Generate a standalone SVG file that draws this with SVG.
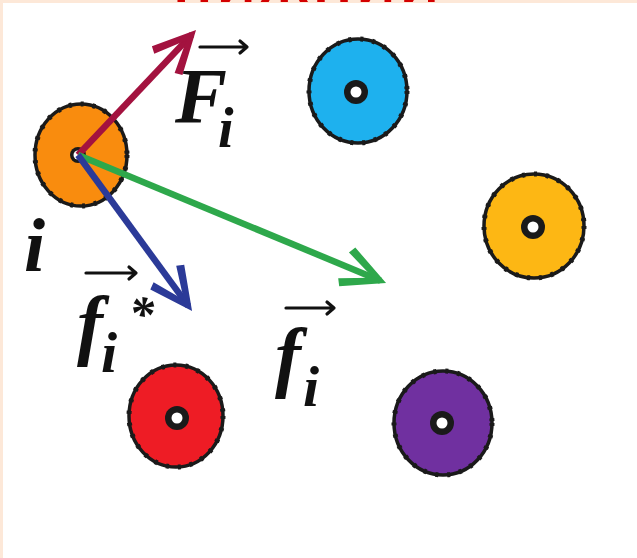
<svg xmlns="http://www.w3.org/2000/svg" width="637" height="558" viewBox="0 0 637 558">
<style>
.p{stroke:#1a1a1a;stroke-width:3.5}
.bump{fill:none;stroke:#1a1a1a;stroke-width:5;stroke-dasharray:3 9}
.ring{fill:#1a1a1a}
.hole{fill:#fff}
.shaft{fill:none;stroke-width:6.5;stroke-linecap:butt}
.lbl{font-family:"Liberation Serif","Times New Roman",serif;font-weight:bold;font-style:italic;fill:#111}
.vec{fill:none;stroke:#111;stroke-width:3.2;stroke-linecap:round;stroke-linejoin:round}
</style>
<defs>
<marker id="hR" markerUnits="userSpaceOnUse" orient="auto" viewBox="-45 -25 55 50" refX="0" refY="0" markerWidth="55" markerHeight="50"><polygon points="6,0 -36,-21 -40,-14 -8,0 -40,14 -36,21" fill="#A3123F"/></marker>
<marker id="hG" markerUnits="userSpaceOnUse" orient="auto" viewBox="-45 -25 55 50" refX="0" refY="0" markerWidth="55" markerHeight="50"><polygon points="6,0 -36,-21 -40,-14 -8,0 -40,14 -36,21" fill="#2EA84B"/></marker>
<marker id="hB" markerUnits="userSpaceOnUse" orient="auto" viewBox="-45 -25 55 50" refX="0" refY="0" markerWidth="55" markerHeight="50"><polygon points="6,0 -36,-21 -40,-14 -8,0 -40,14 -36,21" fill="#2B3A98"/></marker>
</defs>
<rect x="0" y="0" width="637" height="558" fill="#fff"/>
<rect x="0" y="0" width="637" height="3" fill="#FDE8D8"/>
<rect x="0" y="0" width="3" height="558" fill="#FDE8D8"/>
<text x="309" y="2" text-anchor="middle" font-family="Liberation Sans, Arial, sans-serif" font-weight="bold" font-size="52" fill="#D40000" letter-spacing="6">НИЖНИЙ</text>

<g id="particle-i">
<ellipse cx="81" cy="155" rx="46" ry="51" fill="#F98C0E" class="p"/>
<ellipse cx="81" cy="155" rx="46" ry="51" class="bump"/>
<circle cx="78" cy="155" r="8" class="ring"/>
<circle cx="78" cy="155" r="4.5" class="hole"/>
</g>
<g id="particle-blue">
<ellipse cx="358" cy="91" rx="49" ry="52" fill="#1EB1EE" class="p"/>
<ellipse cx="358" cy="91" rx="49" ry="52" class="bump"/>
<circle cx="356" cy="92" r="12" class="ring"/>
<circle cx="356" cy="92" r="5.5" class="hole"/>
</g>
<g id="particle-yellow">
<ellipse cx="534" cy="226" rx="50" ry="52" fill="#FDB714" class="p"/>
<ellipse cx="534" cy="226" rx="50" ry="52" class="bump"/>
<circle cx="533" cy="227" r="12" class="ring"/>
<circle cx="533" cy="227" r="5.5" class="hole"/>
</g>
<g id="particle-red">
<ellipse cx="176" cy="416" rx="47" ry="51" fill="#EE1C25" class="p"/>
<ellipse cx="176" cy="416" rx="47" ry="51" class="bump"/>
<circle cx="177" cy="418" r="12" class="ring"/>
<circle cx="177" cy="418" r="5.5" class="hole"/>
</g>
<g id="particle-purple">
<ellipse cx="443" cy="423" rx="49" ry="52" fill="#7030A0" class="p"/>
<ellipse cx="443" cy="423" rx="49" ry="52" class="bump"/>
<circle cx="442" cy="423" r="12" class="ring"/>
<circle cx="442" cy="423" r="5.5" class="hole"/>
</g>

<g id="connectors">
<line x1="78" y1="155" x2="191.9" y2="34.4" class="shaft" stroke="#A3123F" marker-end="url(#hR)"/>
<line x1="78" y1="155" x2="380.5" y2="280.7" class="shaft" stroke="#2EA84B" marker-end="url(#hG)"/>
<line x1="78" y1="155" x2="188.5" y2="306.2" class="shaft" stroke="#2B3A98" marker-end="url(#hB)"/>
</g>

<g id="label-Fi">
<path class="vec" d="M200,47 L247,47 M240,41 L247,47 L240,53"/>
<text class="lbl" x="175" y="122" font-size="78">F<tspan x="218" y="147" font-size="56">i</tspan></text>
</g>
<g id="label-i">
<text class="lbl" x="24" y="271" font-size="76">i</text>
</g>
<g id="label-fstar">
<path class="vec" d="M86,273 L136,273 M129,267 L136,273 L129,279"/>
<text class="lbl" x="77" y="350" font-size="78">f<tspan x="129" y="331" font-size="50">*</tspan><tspan x="101" y="372" font-size="58">i</tspan></text>
</g>
<g id="label-fi">
<path class="vec" d="M286,308 L334,308 M327,302 L334,308 L327,314"/>
<text class="lbl" x="275" y="382" font-size="78">f<tspan x="303" y="406" font-size="58">i</tspan></text>
</g>
</svg>
